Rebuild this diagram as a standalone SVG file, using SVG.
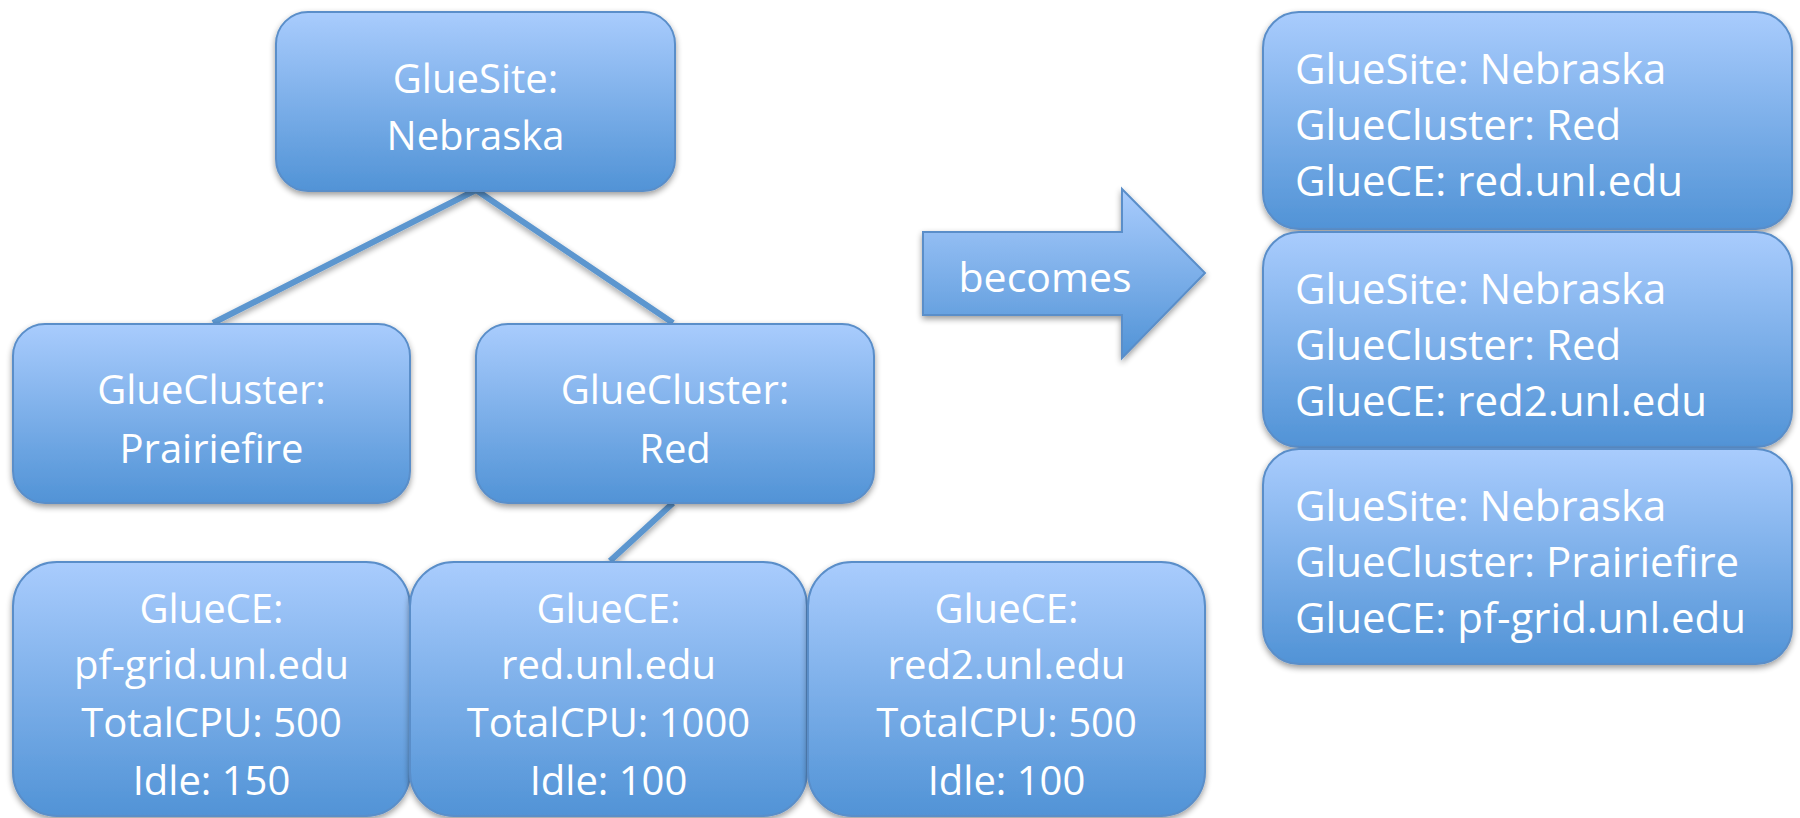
<svg xmlns="http://www.w3.org/2000/svg" width="1800" height="818" viewBox="0 0 1800 818">
  <defs>
    <linearGradient id="g" x1="0" y1="0" x2="0" y2="1">
      <stop offset="0" stop-color="#a9ccfd"/>
      <stop offset="1" stop-color="#5193d6"/>
    </linearGradient>
    <filter id="sh" x="-10%" y="-10%" width="120%" height="125%">
      <feGaussianBlur in="SourceAlpha" stdDeviation="3"/>
      <feOffset dx="0" dy="3" result="b"/>
      <feComponentTransfer><feFuncA type="linear" slope="0.4"/></feComponentTransfer>
      <feMerge><feMergeNode/><feMergeNode in="SourceGraphic"/></feMerge>
    </filter>
  </defs>
  <style>
    .box { fill: url(#g); stroke: #5a8ec9; stroke-width: 2; filter: url(#sh); }
    .t { font-family: "Open Sans", "Noto Sans", sans-serif; font-size: 40px; fill: #ffffff; }
    .r { font-size: 42px; }
    .c { text-anchor: middle; }
    .ln { stroke: #5c96cf; stroke-width: 6; fill: none; filter: url(#sh); }
  </style>
  <rect width="1800" height="818" fill="#ffffff"/>

  <g id="connectors">
    <polyline class="ln" points="213,323 476,190 673,323"/>
    <line class="ln" x1="212" y1="503" x2="212" y2="562"/>
    <line class="ln" x1="673" y1="503" x2="610" y2="561"/>
  </g>

  <g id="site">
    <rect class="box" x="276" y="12" width="399" height="179" rx="32"/>
    <text class="t c" x="475.5" y="93">GlueSite:</text>
    <text class="t c" x="475.5" y="150">Nebraska</text>
  </g>

  <g id="cluster-prairiefire">
    <rect class="box" x="13" y="324" width="397" height="179" rx="32"/>
    <text class="t c" x="211.5" y="404">GlueCluster:</text>
    <text class="t c" x="211.5" y="463">Prairiefire</text>
  </g>

  <g id="cluster-red">
    <rect class="box" x="476" y="324" width="398" height="179" rx="32"/>
    <text class="t c" x="675" y="404">GlueCluster:</text>
    <text class="t c" x="675" y="463">Red</text>
  </g>

  <g id="ce-pf">
    <rect class="box" x="13" y="562" width="397" height="254" rx="44"/>
    <text class="t c" x="211.5" y="623">GlueCE:</text>
    <text class="t c" x="211.5" y="679">pf-grid.unl.edu</text>
    <text class="t c" x="211.5" y="737">TotalCPU: 500</text>
    <text class="t c" x="211.5" y="795">Idle: 150</text>
  </g>

  <g id="ce-red">
    <rect class="box" x="410" y="562" width="397" height="254" rx="44"/>
    <text class="t c" x="608.5" y="623">GlueCE:</text>
    <text class="t c" x="608.5" y="679">red.unl.edu</text>
    <text class="t c" x="608.5" y="737">TotalCPU: 1000</text>
    <text class="t c" x="608.5" y="795">Idle: 100</text>
  </g>

  <g id="ce-red2">
    <rect class="box" x="808" y="562" width="397" height="254" rx="44"/>
    <text class="t c" x="1006.5" y="623">GlueCE:</text>
    <text class="t c" x="1006.5" y="679">red2.unl.edu</text>
    <text class="t c" x="1006.5" y="737">TotalCPU: 500</text>
    <text class="t c" x="1006.5" y="795">Idle: 100</text>
  </g>

  <g id="becomes">
    <polygon class="box" points="923,232 1122,232 1122,189 1205,273 1122,358 1122,315 923,315"/>
    <text class="t c" x="1045" y="292" style="font-size:41px">becomes</text>
  </g>

  <g id="flat-red">
    <rect class="box" x="1263" y="12" width="529" height="217" rx="36"/>
    <text class="t r" x="1295" y="84">GlueSite: Nebraska</text>
    <text class="t r" x="1295" y="140">GlueCluster: Red</text>
    <text class="t r" x="1295" y="196">GlueCE: red.unl.edu</text>
  </g>

  <g id="flat-red2">
    <rect class="box" x="1263" y="232" width="529" height="215" rx="36"/>
    <text class="t r" x="1295" y="304">GlueSite: Nebraska</text>
    <text class="t r" x="1295" y="360">GlueCluster: Red</text>
    <text class="t r" x="1295" y="416">GlueCE: red2.unl.edu</text>
  </g>

  <g id="flat-pf">
    <rect class="box" x="1263" y="449" width="529" height="215" rx="36"/>
    <text class="t r" x="1295" y="521">GlueSite: Nebraska</text>
    <text class="t r" x="1295" y="577">GlueCluster: Prairiefire</text>
    <text class="t r" x="1295" y="633">GlueCE: pf-grid.unl.edu</text>
  </g>
</svg>
